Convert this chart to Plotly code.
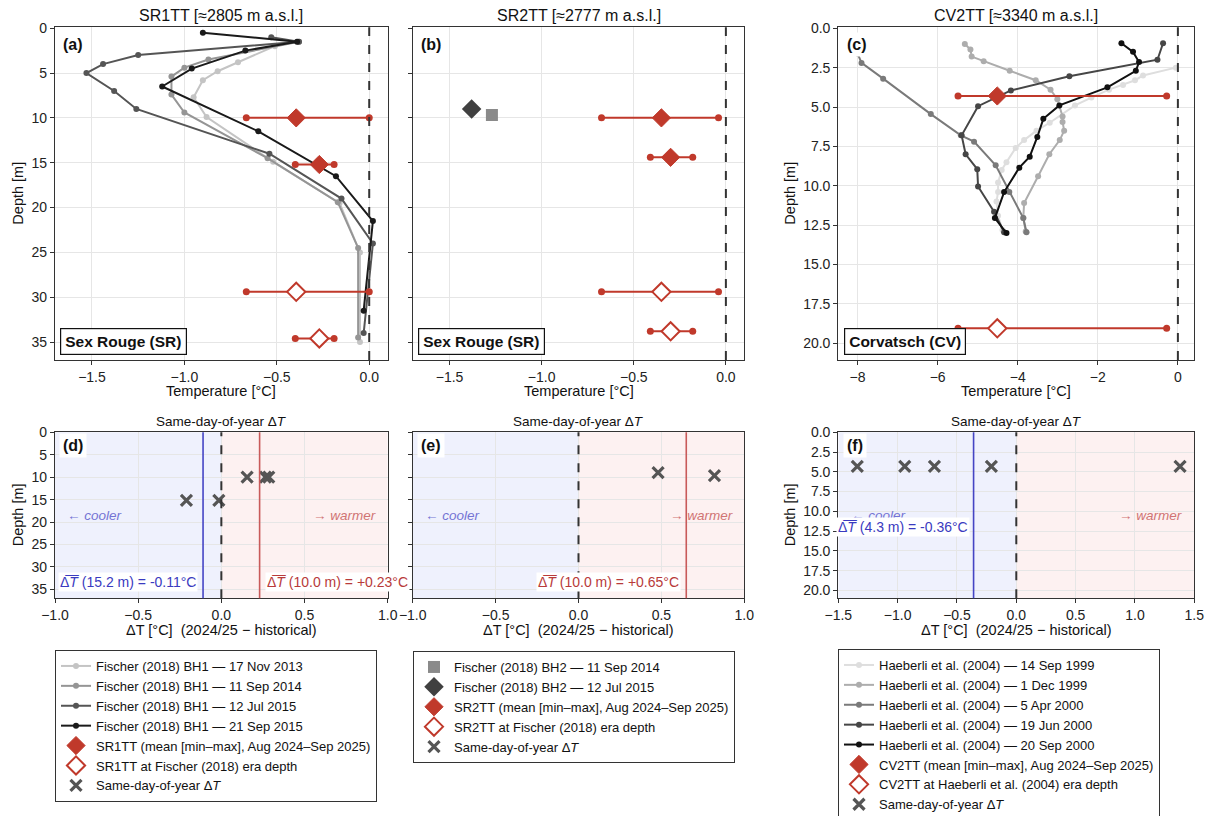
import plotly.graph_objects as go

W, H = 1210, 816

# ---------------- data ----------------
# Panel (a) SR1TT — Fischer (2018) BH1 profiles (temperature, depth)
bh1_nov2013_T = [-0.39, -0.51, -0.71, -0.82, -0.90, -0.95, -0.88, -0.52, -0.16, -0.05, -0.05]
bh1_nov2013_D = [1.5, 2.0, 3.8, 4.8, 5.8, 7.7, 9.9, 14.9, 19.5, 25.0, 35.0]
bh1_sep2014_T = [-0.38, -0.87, -1.00, -1.07, -1.07, -1.00, -0.55, -0.17, -0.06, -0.06]
bh1_sep2014_D = [1.5, 3.5, 4.4, 5.4, 7.4, 9.4, 14.5, 19.4, 24.5, 34.5]
bh1_jul2015_T = [-0.53, -0.38, -1.25, -1.44, -1.53, -1.38, -1.26, -0.54, -0.15, 0.02, -0.03]
bh1_jul2015_D = [1.0, 1.5, 3.0, 4.0, 5.0, 7.0, 9.0, 14.0, 19.0, 24.0, 34.0]
bh1_sep2015_T = [-0.90, -0.39, -0.67, -0.96, -1.12, -0.60, -0.18, 0.02, -0.03]
bh1_sep2015_D = [0.5, 1.5, 2.5, 4.5, 6.5, 11.5, 16.5, 21.5, 31.5]

sr1_depth = [10.0, 15.2]
sr1_mean = [-0.395, -0.27]
sr1_min = [-0.665, -0.40]
sr1_max = [0.0, -0.19]
sr1_era_depth = [29.4, 34.6]

# Panel (b) SR2TT
bh2_sep2014_T, bh2_sep2014_D = [-1.27], [9.67]
bh2_jul2015_T, bh2_jul2015_D = [-1.38], [9.0]
sr2_depth = [10.0, 14.4]
sr2_mean = [-0.35, -0.30]
sr2_min = [-0.675, -0.41]
sr2_max = [-0.04, -0.18]
sr2_era_depth = [29.4, 33.8]

# Panel (c) CV2TT — Haeberli et al. (2004) profiles
h_sep1999_T = [-0.05, -0.87, -1.07, -1.37, -1.72, -2.16, -2.57, -3.20, -3.53, -3.84, -4.05, -4.28, -4.40, -4.49, -4.49, -4.53, -4.49, -4.38]
h_sep1999_D = [2.5, 3.0, 3.3, 3.6, 3.9, 4.4, 4.9, 6.0, 6.5, 7.1, 7.6, 8.5, 9.0, 9.8, 10.4, 11.0, 11.9, 12.8]
h_dec1999_T = [-5.32, -5.18, -5.15, -4.85, -4.20, -3.55, -3.18, -3.01, -2.88, -2.88, -2.84, -2.95, -3.21, -3.49, -3.84, -3.86, -3.80]
h_dec1999_D = [1.0, 1.35, 1.8, 2.1, 2.7, 3.3, 3.9, 4.5, 5.6, 5.95, 6.5, 7.1, 8.0, 9.4, 11.1, 12.05, 12.9]
h_apr2000_T = [-8.0, -7.9, -7.36, -6.17, -5.42, -5.09, -4.55, -4.21, -3.86, -3.78]
h_apr2000_D = [1.6, 2.2, 3.2, 5.45, 6.8, 7.2, 8.7, 10.4, 12.05, 12.95]
h_jun2000_T = [-0.37, -0.51, -2.71, -4.17, -4.99, -5.40, -5.30, -5.01, -4.99, -4.59, -4.34]
h_jun2000_D = [0.95, 2.0, 3.05, 3.95, 4.95, 6.8, 8.0, 8.95, 10.05, 11.65, 12.95]
h_sep2000_T = [-1.41, -1.12, -0.97, -1.05, -1.76, -2.96, -3.36, -3.51, -3.70, -3.96, -4.34, -4.57, -4.28]
h_sep2000_D = [0.95, 1.5, 2.15, 2.7, 3.75, 4.9, 5.75, 6.9, 8.15, 8.85, 10.4, 12.05, 13.0]

cv2_depth = [4.3]
cv2_mean = [-4.51]
cv2_min = [-5.49]
cv2_max = [-0.28]
cv2_era_depth = [19.05]

# Bottom row: same-day-of-year ΔT (ΔT, depth)
dT_sr1 = [0.155, 0.265, 0.285, -0.21, -0.015]
dT_sr1_D = [10.0, 10.0, 10.0, 15.2, 15.2]
dT_sr1_mean = {"15.2": -0.11, "10.0": 0.23}
dT_sr2 = [0.48, 0.82]
dT_sr2_D = [9.0, 9.67]
dT_sr2_mean = {"10.0": 0.65}
dT_cv2 = [-1.34, -0.94, -0.69, -0.21, 1.38]
dT_cv2_D = [4.3, 4.3, 4.3, 4.3, 4.3]
dT_cv2_mean = {"4.3": -0.36}

# ---------------- style ----------------
RED = "#c0392b"
BLUE_LINE = "#4545c4"
RED_LINE = "#c85a5a"
FONT = "Liberation Sans, Arial, sans-serif"
C_NOV13, C_SEP14, C_JUL15, C_SEP15 = "#c4c4c4", "#959595", "#555555", "#1a1a1a"
C_H1, C_H2, C_H3, C_H4, C_H5 = "#dedede", "#adadad", "#7a7a7a", "#464646", "#111111"

def px(x):
    return x / W

def py(y):
    return 1 - y / H

colx = [(55, 387.7), (412.7, 744.3), (838.3, 1194.3)]
row1 = (27.3, 360.0)
row2 = (432.3, 598.3)

fig = go.Figure()

def profile(T, D, color, name, ax, leg):
    fig.add_trace(go.Scatter(x=T, y=D, mode="lines+markers", name=name,
                             line=dict(color=color, width=2),
                             marker=dict(size=6, color=color),
                             xaxis="x" + ax, yaxis="y" + ax, legend=leg))

def sensor(depth, mean, mn, mx, era_depth, name_filled, name_open, ax, leg):
    for dlist in (depth, era_depth):
        for d, lo, hi in zip(dlist, mn, mx):
            fig.add_trace(go.Scatter(x=[lo, hi], y=[d, d], mode="lines+markers",
                                     line=dict(color=RED, width=2),
                                     marker=dict(size=7, color=RED),
                                     showlegend=False, hoverinfo="skip",
                                     xaxis="x" + ax, yaxis="y" + ax))
    fig.add_trace(go.Scatter(x=mean, y=depth, mode="markers", name=name_filled,
                             marker=dict(symbol="diamond", size=14, color=RED,
                                         line=dict(color=RED, width=1)),
                             xaxis="x" + ax, yaxis="y" + ax, legend=leg))
    fig.add_trace(go.Scatter(x=mean, y=era_depth, mode="markers", name=name_open,
                             marker=dict(symbol="diamond", size=14, color="white",
                                         line=dict(color=RED, width=2)),
                             xaxis="x" + ax, yaxis="y" + ax, legend=leg))

def crosses(x, y, ax, leg):
    fig.add_trace(go.Scatter(x=x, y=y, mode="markers", name="Same-day-of-year Δ<i>T</i>",
                             marker=dict(symbol="x-thin", size=11, color="#555555",
                                         line=dict(color="#555555", width=3.2)),
                             xaxis="x" + ax, yaxis="y" + ax, legend=leg))

# (a)
profile(bh1_nov2013_T, bh1_nov2013_D, C_NOV13, "Fischer (2018) BH1 — 17 Nov 2013", "", "legend")
profile(bh1_sep2014_T, bh1_sep2014_D, C_SEP14, "Fischer (2018) BH1 — 11 Sep 2014", "", "legend")
profile(bh1_jul2015_T, bh1_jul2015_D, C_JUL15, "Fischer (2018) BH1 — 12 Jul 2015", "", "legend")
profile(bh1_sep2015_T, bh1_sep2015_D, C_SEP15, "Fischer (2018) BH1 — 21 Sep 2015", "", "legend")
sensor(sr1_depth, sr1_mean, sr1_min, sr1_max, sr1_era_depth,
       "SR1TT (mean [min–max], Aug 2024–Sep 2025)", "SR1TT at Fischer (2018) era depth", "", "legend")
crosses(dT_sr1, dT_sr1_D, "4", "legend")

# (b)
fig.add_trace(go.Scatter(x=bh2_sep2014_T, y=bh2_sep2014_D, mode="markers",
                         name="Fischer (2018) BH2 — 11 Sep 2014",
                         marker=dict(symbol="square", size=12, color="#8a8a8a"),
                         xaxis="x2", yaxis="y2", legend="legend2"))
fig.add_trace(go.Scatter(x=bh2_jul2015_T, y=bh2_jul2015_D, mode="markers",
                         name="Fischer (2018) BH2 — 12 Jul 2015",
                         marker=dict(symbol="diamond", size=15, color="#404040"),
                         xaxis="x2", yaxis="y2", legend="legend2"))
sensor(sr2_depth, sr2_mean, sr2_min, sr2_max, sr2_era_depth,
       "SR2TT (mean [min–max], Aug 2024–Sep 2025)", "SR2TT at Fischer (2018) era depth", "2", "legend2")
crosses(dT_sr2, dT_sr2_D, "5", "legend2")

# (c)
profile(h_sep1999_T, h_sep1999_D, C_H1, "Haeberli et al. (2004) — 14 Sep 1999", "3", "legend3")
profile(h_dec1999_T, h_dec1999_D, C_H2, "Haeberli et al. (2004) — 1 Dec 1999", "3", "legend3")
profile(h_apr2000_T, h_apr2000_D, C_H3, "Haeberli et al. (2004) — 5 Apr 2000", "3", "legend3")
profile(h_jun2000_T, h_jun2000_D, C_H4, "Haeberli et al. (2004) — 19 Jun 2000", "3", "legend3")
profile(h_sep2000_T, h_sep2000_D, C_H5, "Haeberli et al. (2004) — 20 Sep 2000", "3", "legend3")
sensor(cv2_depth, cv2_mean, cv2_min, cv2_max, cv2_era_depth,
       "CV2TT (mean [min–max], Aug 2024–Sep 2025)", "CV2TT at Haeberli et al. (2004) era depth", "3", "legend3")
crosses(dT_cv2, dT_cv2_D, "6", "legend3")

# ---------------- axes ----------------
axis_common = dict(showline=True, mirror=True, linecolor="#333333", linewidth=1.2,
                   ticks="outside", ticklen=4, tickcolor="#333333", tickwidth=1,
                   showgrid=True, gridcolor="#e6e6e6", gridwidth=1, zeroline=False,
                   tickfont=dict(size=14, color="#222222", family=FONT), automargin=False)

def xa(i, dom, rng, dtick, fmt=None):
    d = dict(axis_common, domain=[px(dom[0]), px(dom[1])], range=rng, dtick=dtick,
             anchor="y" + ("" if i == 1 else str(i)))
    if fmt:
        d["tickformat"] = fmt
    return d

def ya(i, dom, rng, dtick, fmt=None, labels=True):
    d = dict(axis_common, domain=[py(dom[1]), py(dom[0])], range=rng, dtick=dtick,
             anchor="x" + ("" if i == 1 else str(i)), showticklabels=labels)
    if fmt:
        d["tickformat"] = fmt
    return d

fig.update_layout(
    xaxis=xa(1, colx[0], [-1.7, 0.1], 0.5, ".1f"),
    xaxis2=xa(2, colx[1], [-1.7, 0.1], 0.5, ".1f"),
    xaxis3=xa(3, colx[2], [-8.48, 0.41], 2),
    xaxis4=xa(4, colx[0], [-1.0, 1.0], 0.5, ".1f"),
    xaxis5=xa(5, colx[1], [-1.0, 1.0], 0.5, ".1f"),
    xaxis6=xa(6, colx[2], [-1.5, 1.5], 0.5, ".1f"),
    yaxis=ya(1, row1, [37.0, -0.1], 5),
    yaxis2=ya(2, row1, [37.0, -0.1], 5, labels=False),
    yaxis3=ya(3, row1, [21.06, -0.06], 2.5, ".1f"),
    yaxis4=ya(4, row2, [37.0, 0.0], 5),
    yaxis5=ya(5, row2, [37.0, 0.0], 5, labels=False),
    yaxis6=ya(6, row2, [21.0, 0.0], 2.5, ".1f"),
)

# ---------------- shapes ----------------
shapes = []
for ax in ["", "2", "3", "4", "5", "6"]:
    shapes.append(dict(type="line", xref="x" + ax, yref="y" + ax + " domain",
                       x0=0, x1=0, y0=0, y1=1, layer="above",
                       line=dict(color="#333333", width=2, dash="dash")))
for ax, lo, hi in [("4", -1.0, 1.0), ("5", -1.0, 1.0), ("6", -1.5, 1.5)]:
    shapes.append(dict(type="rect", xref="x" + ax, yref="y" + ax + " domain",
                       x0=lo, x1=0, y0=0, y1=1, layer="below",
                       fillcolor="#eff1fd", line=dict(width=0)))
    shapes.append(dict(type="rect", xref="x" + ax, yref="y" + ax + " domain",
                       x0=0, x1=hi, y0=0, y1=1, layer="below",
                       fillcolor="#fdf1f1", line=dict(width=0)))
for ax, val, col in [("4", dT_sr1_mean["15.2"], BLUE_LINE), ("4", dT_sr1_mean["10.0"], RED_LINE),
                     ("5", dT_sr2_mean["10.0"], RED_LINE), ("6", dT_cv2_mean["4.3"], BLUE_LINE)]:
    shapes.append(dict(type="line", xref="x" + ax, yref="y" + ax + " domain",
                       x0=val, x1=val, y0=0, y1=1, layer="above",
                       line=dict(color=col, width=1.6)))
fig.update_layout(shapes=shapes)

# ---------------- annotations ----------------
ann = []

def paper_text(text, xp, yp, size, angle=0):
    ann.append(dict(text=text, x=px(xp), y=py(yp), xref="paper", yref="paper",
                    xanchor="center", yanchor="middle", textangle=angle,
                    showarrow=False, font=dict(size=size, color="#111111")))

titles_top = ["SR1TT [≈2805 m a.s.l.]", "SR2TT [≈2777 m a.s.l.]", "CV2TT [≈3340 m a.s.l.]"]
for (l, r), t in zip(colx, titles_top):
    c = (l + r) / 2
    paper_text(t, c, 15, 16)
    paper_text("Same-day-of-year Δ<i>T</i>", c, 421, 13.5)
    paper_text("Temperature [°C]", c, 391, 14.5)
    paper_text("ΔT [°C]  (2024/25 − historical)", c, 630, 14.5)
for xpix in (18, 790):
    for ycen in ((row1[0] + row1[1]) / 2, (row2[0] + row2[1]) / 2):
        paper_text("Depth [m]", xpix, ycen, 14.5, angle=-90)

for ax, lab in [("", "(a)"), ("2", "(b)"), ("3", "(c)"), ("4", "(d)"), ("5", "(e)"), ("6", "(f)")]:
    top = ax in ("", "2", "3")
    ann.append(dict(text="<b>%s</b>" % lab, xref="x" + ax + " domain", yref="y" + ax + " domain",
                    x=0.012, y=0.985 if top else 0.995, xanchor="left", yanchor="top",
                    showarrow=False, bgcolor="white", borderpad=3,
                    font=dict(size=16, color="#111111")))

for ax, lab in [("", "Sex Rouge (SR)"), ("2", "Sex Rouge (SR)"), ("3", "Corvatsch (CV)")]:
    ann.append(dict(text="<b>%s</b>" % lab, xref="x" + ax + " domain", yref="y" + ax + " domain",
                    x=0.015, y=0.015, xanchor="left", yanchor="bottom", showarrow=False,
                    bgcolor="white", bordercolor="#111111", borderwidth=1.2, borderpad=4,
                    font=dict(size=15.5, color="#111111")))

for ax in ("4", "5", "6"):
    ann.append(dict(text="<i>← cooler</i>", xref="x" + ax + " domain", yref="y" + ax + " domain",
                    x=0.03, y=0.5, xanchor="left", yanchor="middle", showarrow=False,
                    font=dict(size=13.5, color="#7474d4")))
    ann.append(dict(text="<i>→ warmer</i>", xref="x" + ax + " domain", yref="y" + ax + " domain",
                    x=0.972, y=0.5, xanchor="right", yanchor="middle", showarrow=False,
                    font=dict(size=13.5, color="#d07474")))

OVL = "Δ\u0305<i>T\u0305</i>"
mean_labels = [
    ("4", dT_sr1_mean["15.2"], 33.3, "right", -5, "15.2 m", "#3a3ac0"),
    ("4", dT_sr1_mean["10.0"], 33.3, "left", 5, "10.0 m", "#b83a3a"),
    ("5", dT_sr2_mean["10.0"], 33.3, "right", -5, "10.0 m", "#b83a3a"),
    ("6", dT_cv2_mean["4.3"], 11.95, "right", -4, "4.3 m", "#3a3ac0"),
]
for ax, val, yv, anchor, shift, dep, col in mean_labels:
    txt = "%s (%s) = %s°C" % (OVL, dep, ("%+.2f" % val) if val > 0 else ("%.2f" % val))
    ann.append(dict(text=txt, xref="x" + ax, yref="y" + ax, x=val, y=yv, xanchor=anchor,
                    yanchor="middle", xshift=shift, showarrow=False, bgcolor="white",
                    borderpad=1, font=dict(size=14, color=col)))
fig.update_layout(annotations=ann)

# ---------------- legends ----------------
leg_common = dict(xanchor="left", yanchor="top", bgcolor="white", bordercolor="#333333",
                  borderwidth=1, font=dict(size=13, color="#111111", family=FONT),
                  tracegroupgap=0, itemwidth=30, traceorder="normal")
fig.update_layout(
    legend=dict(leg_common, x=px(55), y=py(650)),
    legend2=dict(leg_common, x=px(413), y=py(651)),
    legend3=dict(leg_common, x=px(838), y=py(649)),
)

fig.update_layout(width=W, height=H,
                  margin=dict(l=0, r=0, t=0, b=0, autoexpand=False),
                  paper_bgcolor="white", plot_bgcolor="white",
                  font=dict(family=FONT, color="#111111"), showlegend=True)

fig.write_html("out.html", config={"displayModeBar": False},
               post_script="document.body.style.margin='0px';document.body.style.overflow='hidden';")
